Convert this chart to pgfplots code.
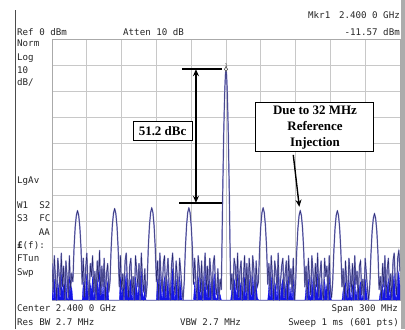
\documentclass[border=0pt]{standalone}
\usepackage{fontspec}
\setmainfont{Liberation Serif}
\newfontfamily\scr{DejaVu Sans Mono}
\usepackage{pgfplots}
\pgfplotsset{compat=1.18}
\usepackage{pgfplotstable}
\usepgfplotslibrary{fillbetween}
\usetikzlibrary{arrows.meta}
\definecolor{lav}{RGB}{140,140,205}
\definecolor{navy}{RGB}{40,40,110}
\definecolor{bblue}{RGB}{20,20,230}
\definecolor{gridc}{RGB}{200,200,200}

\pgfplotstableread{
x t1 t2
2250 -86 -95
2251 -97 -100
2252 -83 -92
2253 -92 -97
2254 -100 -100
2255 -84 -93
2256 -89 -96
2257 -98 -100
2258 -82 -90
2259 -95 -98
2260 -87 -94
2261 -100 -100
2262 -85 -92
2263 -91 -99
2264 -99 -100
2265 -83 -91
2266 -96 -97
2267 -90 -95
2268 -93 -100
2269 -80 -100
2270 -72 -100
2271 -67.5 -100
2272 -65.8 -100
2273 -67.5 -100
2274 -72 -100
2275 -80 -100
2276 -94 -100
2277 -84 -93
2278 -99 -100
2279 -88 -96
2280 -82 -90
2281 -94 -98
2282 -100 -100
2283 -86 -94
2284 -91 -97
2285 -83 -91
2286 -97 -100
2287 -89 -95
2288 -100 -100
2289 -85 -92
2290 -93 -98
2291 -81 -89
2292 -98 -100
2293 -87 -94
2294 -95 -99
2295 -84 -92
2296 -100 -100
2297 -90 -96
2298 -86 -93
2299 -97 -100
2300 -93 -100
2301 -80 -100
2302 -71.5 -100
2303 -66.8 -100
2304 -65.0 -100
2305 -66.8 -100
2306 -71.5 -100
2307 -80 -100
2308 -95 -100
2309 -83 -91
2310 -96 -99
2311 -90 -95
2312 -100 -100
2313 -85 -93
2314 -82 -90
2315 -93 -97
2316 -99 -100
2317 -87 -94
2318 -84 -92
2319 -98 -100
2320 -91 -96
2321 -100 -100
2322 -83 -91
2323 -89 -95
2324 -95 -99
2325 -86 -93
2326 -100 -100
2327 -82 -89
2328 -92 -97
2329 -97 -100
2330 -88 -94
2331 -99 -100
2332 -94 -100
2333 -80 -100
2334 -71.5 -100
2335 -66.5 -100
2336 -64.7 -100
2337 -66.5 -100
2338 -71.5 -100
2339 -80 -100
2340 -93 -100
2341 -85 -92
2342 -100 -100
2343 -82 -90
2344 -91 -96
2345 -97 -100
2346 -86 -94
2347 -83 -91
2348 -99 -100
2349 -90 -96
2350 -84 -92
2351 -95 -99
2352 -100 -100
2353 -87 -93
2354 -82 -88
2355 -93 -97
2356 -98 -100
2357 -85 -92
2358 -91 -96
2359 -100 -100
2360 -84 -91
2361 -89 -95
2362 -96 -100
2363 -100 -100
2364 -93 -100
2365 -80 -100
2366 -71.5 -100
2367 -66.5 -100
2368 -64.7 -100
2369 -66.5 -100
2370 -71.5 -100
2371 -80 -100
2372 -94 -100
2373 -84 -93
2374 -93 -98
2375 -100 -100
2376 -83 -91
2377 -88 -95
2378 -97 -100
2379 -85 -92
2380 -100 -100
2381 -91 -97
2382 -82 -89
2383 -96 -100
2384 -87 -94
2385 -99 -100
2386 -84 -92
2387 -90 -96
2388 -100 -100
2389 -86 -93
2390 -83 -90
2391 -95 -99
2392 -98 -100
2393 -88 -95
2394 -100 -100
2395 -92 -98
2396 -96 -100
2396.5 -80 -100
2397 -64 -100
2397.5 -50 -100
2398 -37 -100
2398.5 -27 -100
2399 -19 -100
2399.5 -13.8 -100
2400 -11.57 -100
2400.5 -13.8 -100
2401 -19 -100
2401.5 -27 -100
2402 -37 -100
2402.5 -50 -100
2403 -64 -100
2403.5 -80 -100
2404 -96 -100
2405 -90 -96
2406 -100 -100
2407 -84 -92
2408 -87 -94
2409 -96 -100
2410 -82 -90
2411 -99 -100
2412 -89 -95
2413 -85 -93
2414 -100 -100
2415 -92 -97
2416 -83 -91
2417 -97 -100
2418 -86 -94
2419 -100 -100
2420 -84 -92
2421 -91 -97
2422 -98 -100
2423 -83 -91
2424 -88 -95
2425 -100 -100
2426 -85 -93
2427 -95 -99
2428 -93 -100
2429 -80 -100
2430 -71.5 -100
2431 -66.5 -100
2432 -64.7 -100
2433 -66.5 -100
2434 -71.5 -100
2435 -80 -100
2436 -94 -100
2437 -86 -94
2438 -98 -100
2439 -83 -91
2440 -91 -97
2441 -100 -100
2442 -85 -93
2443 -89 -95
2444 -96 -100
2445 -82 -90
2446 -100 -100
2447 -93 -98
2448 -87 -94
2449 -84 -92
2450 -99 -100
2451 -90 -96
2452 -85 -93
2453 -100 -100
2454 -83 -91
2455 -94 -99
2456 -88 -95
2457 -97 -100
2458 -84 -92
2459 -100 -100
2460 -94 -100
2461 -81 -100
2462 -72.5 -100
2463 -67.6 -100
2464 -65.8 -100
2465 -67.6 -100
2466 -72.5 -100
2467 -81 -100
2468 -95 -100
2469 -87 -95
2470 -100 -100
2471 -84 -92
2472 -92 -98
2473 -98 -100
2474 -83 -91
2475 -89 -96
2476 -100 -100
2477 -86 -94
2478 -95 -99
2479 -82 -90
2480 -99 -100
2481 -90 -97
2482 -85 -93
2483 -97 -100
2484 -100 -100
2485 -84 -92
2486 -91 -97
2487 -87 -94
2488 -100 -100
2489 -83 -91
2490 -96 -99
2491 -99 -100
2492 -93 -100
2493 -81 -100
2494 -72.5 -100
2495 -67.6 -100
2496 -65.8 -100
2497 -67.6 -100
2498 -72.5 -100
2499 -81 -100
2500 -95 -100
2501 -88 -96
2502 -100 -100
2503 -85 -93
2504 -93 -98
2505 -99 -100
2506 -84 -92
2507 -90 -97
2508 -97 -100
2509 -86 -94
2510 -100 -100
2511 -83 -91
2512 -94 -99
2513 -89 -96
2514 -100 -100
2515 -87 -95
2516 -85 -93
2517 -98 -100
2518 -92 -98
2519 -100 -100
2520 -84 -92
2521 -90 -96
2522 -96 -100
2523 -100 -100
2524 -94 -100
2525 -82 -100
2526 -73.5 -100
2527 -68.7 -100
2528 -66.9 -100
2529 -68.7 -100
2530 -73.5 -100
2531 -82 -100
2532 -96 -100
2533 -91 -97
2534 -100 -100
2535 -86 -94
2536 -95 -99
2537 -83 -91
2538 -99 -100
2539 -88 -95
2540 -84 -92
2541 -97 -100
2542 -90 -96
2543 -100 -100
2544 -85 -93
2545 -82 -90
2546 -93 -98
2547 -98 -100
2548 -84 -92
2549 -81 -89
2550 -89 -95
}\spec

\begin{document}
\begin{tikzpicture}[txt/.style={font=\scr\fontsize{9.2}{11}\selectfont, text=black!85, inner sep=0pt, text height=6.6bp, text depth=0pt}]
\path (0,0) rectangle (405bp,329bp);
\begin{axis}[at={(52bp,29bp)}, anchor=south west, scale only axis,
  width=348bp, height=261bp,
  xmin=2250, xmax=2550, ymin=-100, ymax=0,
  xtick={2250,2280,...,2550}, ytick={-100,-90,...,0},
  xticklabels={}, yticklabels={}, major tick length=0pt,
  grid=major, grid style={gridc, line width=0.9pt},
  axis line style={gridc!85!black, line width=0.9pt}]
\addplot[lav, line width=1.4pt, line join=round] table[x=x,y=t1]{\spec};
\addplot[name path=n2, draw=bblue, line width=0.3pt] table[x=x,y=t2]{\spec};
\path[name path=bot] (axis cs:2250,-100) -- (axis cs:2550,-100);
\addplot[bblue] fill between[of=n2 and bot];
\addplot[navy, line width=0.5pt] table[x=x,y=t1]{\spec};
\addplot[only marks, mark=diamond*, mark size=2.2pt, mark options={fill=white, draw=black!70, line width=0.6pt}] coordinates {(2400,-11.57)} node[above=1.5pt, font=\scr\fontsize{5}{5}\selectfont, text=black!70, inner sep=0pt] {1};
\draw[black, line width=1.4pt] (axis cs:2362,-11.57) -- (axis cs:2396.5,-11.57);
\draw[black, line width=1.4pt] (axis cs:2359.5,-62.77) -- (axis cs:2396.5,-62.77);
\draw[black, line width=1.4pt, {Stealth[length=7pt,width=6pt]}-{Stealth[length=7pt,width=6pt]}] (axis cs:2374.1,-11.57) -- (axis cs:2374.1,-62.77);
\node[draw, line width=1pt, fill=white, font=\bfseries\fontsize{13}{15}\selectfont, minimum width=59bp, minimum height=19bp, inner sep=1pt] at (axis cs:2345.3,-35.25) {51.2 dBc};
\node[draw, line width=1pt, fill=white, align=center, font=\bfseries\fontsize{13}{16}\selectfont, minimum width=118bp, minimum height=49bp, inner sep=1pt] at (axis cs:2476.7,-33.9) {Due to 32 MHz\\Reference\\Injection};
\draw[line width=1.4pt, -{Stealth[length=7pt,width=6pt]}] (axis cs:2458,-44.4) -- (axis cs:2463.2,-64.3);
\end{axis}
\draw[gray!60!black, line width=0.8pt] (15bp,0) -- (15bp,319bp);
\fill[gray!65] (401bp,0) rectangle (405bp,329bp);
\node[txt, anchor=west] at (308bp,314bp) {Mkr1};
\node[txt, anchor=east] at (400bp,314bp) {2.400 0 GHz};
\node[txt, anchor=west] at (17bp,297bp) {Ref 0 dBm};
\node[txt, anchor=west] at (123bp,297bp) {Atten 10 dB};
\node[txt, anchor=east] at (400bp,297bp) {-11.57 dBm};
\node[txt, anchor=west] at (17bp,286bp) {Norm};
\node[txt, anchor=west] at (17bp,272bp) {Log};
\node[txt, anchor=west] at (17bp,259bp) {10};
\node[txt, anchor=west] at (17bp,247bp) {dB/};
\node[txt, anchor=west] at (17bp,149bp) {LgAv};
\node[txt, anchor=west] at (17bp,124bp) {W1~~S2};
\node[txt, anchor=west] at (17bp,111bp) {S3~~FC};
\node[txt, anchor=east] at (50bp,97bp) {AA};
\node[txt, anchor=west] at (17bp,84bp) {{\bfseries £}(f):};
\node[txt, anchor=west] at (17bp,71bp) {FTun};
\node[txt, anchor=west] at (17bp,57bp) {Swp};
\node[txt, anchor=west] at (17bp,21bp) {Center 2.400 0 GHz};
\node[txt, anchor=east] at (398bp,21bp) {Span 300 MHz};
\node[txt, anchor=west] at (17bp,7bp) {Res BW 2.7 MHz};
\node[txt, anchor=west] at (180bp,7bp) {VBW 2.7 MHz};
\node[txt, anchor=east] at (399bp,7bp) {Sweep 1 ms (601 pts)};
\end{tikzpicture}
\end{document}
